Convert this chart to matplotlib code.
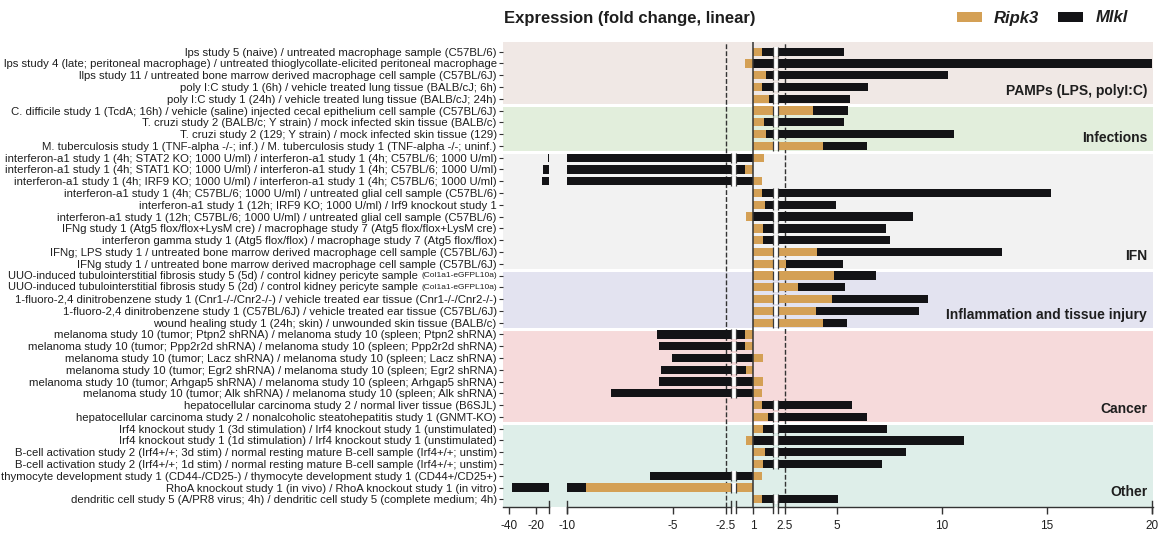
import numpy as np
import matplotlib
matplotlib.use("Agg")
import matplotlib.pyplot as plt
from matplotlib.transforms import blended_transform_factory

plt.rcParams['font.family'] = ['Liberation Sans', 'DejaVu Sans']

labels = [
    "lps study 5 (naive) / untreated macrophage sample (C57BL/6)",
    "lps study 4 (late; peritoneal macrophage) / untreated thioglycollate-elicited peritoneal macrophage",
    "llps study 11 / untreated bone marrow derived macrophage cell sample (C57BL/6J)",
    "poly I:C study 1 (6h) / vehicle treated lung tissue (BALB/cJ; 6h)",
    "poly I:C study 1 (24h) / vehicle treated lung tissue (BALB/cJ; 24h)",
    "C. difficile study 1 (TcdA; 16h) / vehicle (saline) injected cecal epithelium cell sample (C57BL/6J)",
    "T. cruzi study 2 (BALB/c; Y strain) / mock infected skin tissue (BALB/c)",
    "T. cruzi study 2 (129; Y strain) / mock infected skin tissue (129)",
    "M. tuberculosis study 1 (TNF-alpha -/-; inf.) / M. tuberculosis study 1 (TNF-alpha -/-; uninf.)",
    "interferon-a1 study 1 (4h; STAT2 KO; 1000 U/ml) / interferon-a1 study 1 (4h; C57BL/6; 1000 U/ml)",
    "interferon-a1 study 1 (4h; STAT1 KO; 1000 U/ml) / interferon-a1 study 1 (4h; C57BL/6; 1000 U/ml)",
    "interferon-a1 study 1 (4h; IRF9 KO; 1000 U/ml) / interferon-a1 study 1 (4h; C57BL/6; 1000 U/ml)",
    "interferon-a1 study 1 (4h; C57BL/6; 1000 U/ml) / untreated glial cell sample (C57BL/6)",
    "interferon-a1 study 1 (12h; IRF9 KO; 1000 U/ml) / Irf9 knockout study 1",
    "interferon-a1 study 1 (12h; C57BL/6; 1000 U/ml) / untreated glial cell sample (C57BL/6)",
    "IFNg study 1 (Atg5 flox/flox+LysM cre) / macrophage study 7 (Atg5 flox/flox+LysM cre)",
    "interferon gamma study 1 (Atg5 flox/flox) / macrophage study 7 (Atg5 flox/flox)",
    "IFNg; LPS study 1 / untreated bone marrow derived macrophage cell sample (C57BL/6J)",
    "IFNg study 1 / untreated bone marrow derived macrophage cell sample (C57BL/6J)",
    "UUO-induced tubulointerstitial fibrosis study 5 (5d) / control kidney pericyte sample (Col1a1-eGFPL10a)",
    "UUO-induced tubulointerstitial fibrosis study 5 (2d) / control kidney pericyte sample (Col1a1-eGFPL10a)",
    "1-fluoro-2,4 dinitrobenzene study 1 (Cnr1-/-/Cnr2-/-) / vehicle treated ear tissue (Cnr1-/-/Cnr2-/-)",
    "1-fluoro-2,4 dinitrobenzene study 1 (C57BL/6J) / vehicle treated ear tissue (C57BL/6J)",
    "wound healing study 1 (24h; skin) / unwounded skin tissue (BALB/c)",
    "melanoma study 10 (tumor; Ptpn2 shRNA) / melanoma study 10 (spleen; Ptpn2 shRNA)",
    "melanoma study 10 (tumor; Ppp2r2d shRNA) / melanoma study 10 (spleen; Ppp2r2d shRNA)",
    "melanoma study 10 (tumor; Lacz shRNA) / melanoma study 10 (spleen; Lacz shRNA)",
    "melanoma study 10 (tumor; Egr2 shRNA) / melanoma study 10 (spleen; Egr2 shRNA)",
    "melanoma study 10 (tumor; Arhgap5 shRNA) / melanoma study 10 (spleen; Arhgap5 shRNA)",
    "melanoma study 10 (tumor; Alk shRNA) / melanoma study 10 (spleen; Alk shRNA)",
    "hepatocellular carcinoma study 2 / normal liver tissue (B6SJL)",
    "hepatocellular carcinoma study 2 / nonalcoholic steatohepatitis study 1 (GNMT-KO)",
    "Irf4 knockout study 1 (3d stimulation) / Irf4 knockout study 1 (unstimulated)",
    "Irf4 knockout study 1 (1d stimulation) / Irf4 knockout study 1 (unstimulated)",
    "B-cell activation study 2 (Irf4+/+; 3d stim) / normal resting mature B-cell sample (Irf4+/+; unstim)",
    "B-cell activation study 2 (Irf4+/+; 1d stim) / normal resting mature B-cell sample (Irf4+/+; unstim)",
    "thymocyte development study 1 (CD44-/CD25-) / thymocyte development study 1 (CD44+/CD25+)",
    "RhoA knockout study 1 (in vivo) / RhoA knockout study 1 (in vitro)",
    "dendritic cell study 5 (A/PR8 virus; 4h) / dendritic cell study 5 (complete medium; 4h)",
]
small_part = "(Col1a1-eGFPL10a)"

ripk3 = [1.41, -1.45, 1.60, 1.41, 1.76, 3.86, 1.52, 1.60, 4.33,
         1.52, -1.47, 1.41, 1.44, 1.56, -1.39, 1.49, 1.49, 4.06, 2.59,
         4.87, 3.13, 4.78, 4.00, 4.32,
         -1.49, -1.49, 1.49, -1.43, 1.49, 1.44, 1.44, 1.70,
         1.49, -1.39, 1.57, 1.48, 1.44, -9.1, 1.44]
mlkl = [5.35, 20.0, 10.27, 6.49, 5.62, 5.52, 5.33, 10.57, 6.41,
        -10.9, -14.8, -15.3, 15.2, 4.97, 8.63, 7.33, 7.52, 12.86, 5.29,
        6.86, 5.37, 9.35, 8.92, 5.49,
        -5.74, -5.66, -5.03, -5.55, -5.65, -7.94, 5.70, 6.43,
        7.40, 11.03, 8.30, 7.16, -6.08, -37.8, 5.06]

groups = ["PAMPs (LPS, polyI:C)", "Infections", "IFN",
          "Inflammation and tissue injury", "Cancer", "Other"]
group_sizes = [5, 4, 10, 5, 8, 7]
band_colors = ["#f0e8e5", "#e2eedc", "#f2f2f2", "#e3e3f0", "#f6dadb", "#deeee9"]

xticks = [-40, -20, -10, -5, -2.5, 1, 2.5, 5, 10, 15, 20]
xticklabels = ["-40", "-20", "-10", "-5", "-2.5", "1", "2.5", "5", "10", "15", "20"]

c_ripk3 = "#d4a055"
c_mlkl = "#131316"
c_axis = "#333333"
c_text = "#1e1e1e"

# broken linear fold-change axis: -1 and 1 both sit on the baseline
KV = np.array([-44.5, -10.25, -10.0, -2.26, -1.0, 1.0, 21.0])
KU = np.array([503.9, 550.2, 568.0, 732.1, 753.99, 754.0, 1174.0])

def fwd(v):
    return np.interp(v, KV, KU)

def inv(u):
    return np.interp(u, KU, KV)

gap_far = (-10.25, -10.0)
cuts = [(-2.26, -1.98), (1.95, 2.19)]

fig = plt.figure(figsize=(11.58, 5.33), dpi=100)
ax = fig.add_axes([503 / 1158, 1 - 507 / 533, 650 / 1158, 465 / 533])
ax.set_xscale('function', functions=(fwd, inv))

n = len(labels)
ax.set_xlim(-44.5, 20.05)
ax.set_ylim(n - 1 + 0.65, -0.82)

# group bands
start = 0
for name, size, col in zip(groups, group_sizes, band_colors):
    lo = start - 0.5 if start > 0 else -0.82
    hi = start + size - 0.5 if start + size < n else n - 1 + 0.65
    ax.axhspan(lo, hi, color=col, lw=0, zorder=0)
    if start + size < n:
        ax.axhline(hi, color="white", lw=2.2, zorder=1)
    ax.text(0.991, start + size - 1 - 0.65, name, transform=blended_transform_factory(ax.transAxes, ax.transData),
            ha="right", va="center", fontsize=10, weight="bold", color=c_text, zorder=6)
    start += size

ax.axvline(-2.5, color=c_axis, lw=1, ls=(0, (3.5, 1.5)), zorder=2)
ax.axvline(2.5, color=c_axis, lw=1, ls=(0, (3.5, 1.5)), zorder=2)

bh = 0.7

def draw_bar(y, v, color):
    base = 1.0 if v > 0 else -1.0
    if v < gap_far[0]:
        spans = [(v, gap_far[0]), (gap_far[1], base)]
    else:
        spans = [(min(v, base), max(v, base))]
    bars = None
    for lo, hi in spans:
        bars = ax.barh(y, hi - lo, left=lo, height=bh, color=color, lw=0, zorder=3)
    return bars

h_mlkl = h_ripk3 = None
for i in range(n):
    h_mlkl = draw_bar(i, mlkl[i], c_mlkl)
    h_ripk3 = draw_bar(i, ripk3[i], c_ripk3)

# break marks where bars pass the cuts
marked = set()
for i in range(n):
    for val in (ripk3[i], mlkl[i]):
        for c0, c1 in cuts:
            if (c1 < 0 and val < c0) or (c0 > 0 and val > c1):
                marked.add((i, c0, c1))
for i, c0, c1 in marked:
    ax.barh(i, c1 - c0, left=c0, height=bh + 0.06, color="white", lw=0, zorder=4)
    ax.vlines([c0, c1], i - 0.42, i + 0.42, color="#3a3a3a", lw=0.9, zorder=5)

ax.axvline(1, color=c_axis, lw=1.1, zorder=5)

# broken bottom axis
tb = blended_transform_factory(ax.transData, ax.transAxes)
segs = [(-44.5, gap_far[0]), (gap_far[1], cuts[0][0]), (cuts[0][1], cuts[1][0]), (cuts[1][1], 20.05)]
for a, b in segs:
    ax.plot([a, b], [0, 0], transform=tb, color=c_axis, lw=1, clip_on=False, zorder=6)
for c in [gap_far[0], gap_far[1], cuts[0][0], cuts[0][1], cuts[1][0], cuts[1][1], 20.0]:
    ax.plot([c, c], [-0.012, 0.012], transform=tb, color=c_axis, lw=1, clip_on=False, zorder=6)

for s in ax.spines.values():
    s.set_visible(False)

ax.set_xticks(xticks)
ax.set_xticklabels(xticklabels)
ax.xaxis.set_minor_locator(matplotlib.ticker.NullLocator())
ax.tick_params(axis="x", length=5, width=1, color=c_axis, labelsize=8.5, pad=4.5, labelcolor=c_text)

ax.set_yticks(range(n))
ax.set_yticklabels(["" if lab.endswith(small_part) else lab for lab in labels])
ax.tick_params(axis="y", length=3, width=0.8, color=c_axis, labelsize=8.2, pad=1.5, labelcolor=c_text)

ty = blended_transform_factory(ax.transAxes, ax.transData)
for i, lab in enumerate(labels):
    if lab.endswith(small_part):
        t_small = ax.annotate(small_part, xy=(0, i), xycoords=ty, xytext=(-4.5, -0.3),
                              textcoords="offset points", ha="right", va="center",
                              fontsize=6.0, color=c_text)
        ax.annotate(lab[:-len(small_part)], xy=(0, 0.5), xycoords=t_small, xytext=(0, 0.3),
                    textcoords="offset points", ha="right", va="center", fontsize=8.0, color=c_text)

fig.text(504 / 1158, 1 - 18 / 533, "Expression (fold change, linear)", fontsize=12,
         weight="bold", ha="left", va="center", color=c_text)

leg = fig.legend([h_ripk3, h_mlkl], ["Ripk3", "Mlkl"], loc="center left",
                 bbox_to_anchor=(957 / 1158, 1 - 18 / 533), ncol=2, frameon=False,
                 prop={"weight": "bold", "style": "italic", "size": 12},
                 handlelength=1.5, handleheight=0.55, handletextpad=0.72,
                 columnspacing=1.15, borderpad=0, borderaxespad=0)
for t in leg.get_texts():
    t.set_color(c_text)

fig.savefig("out.png", dpi=100)
